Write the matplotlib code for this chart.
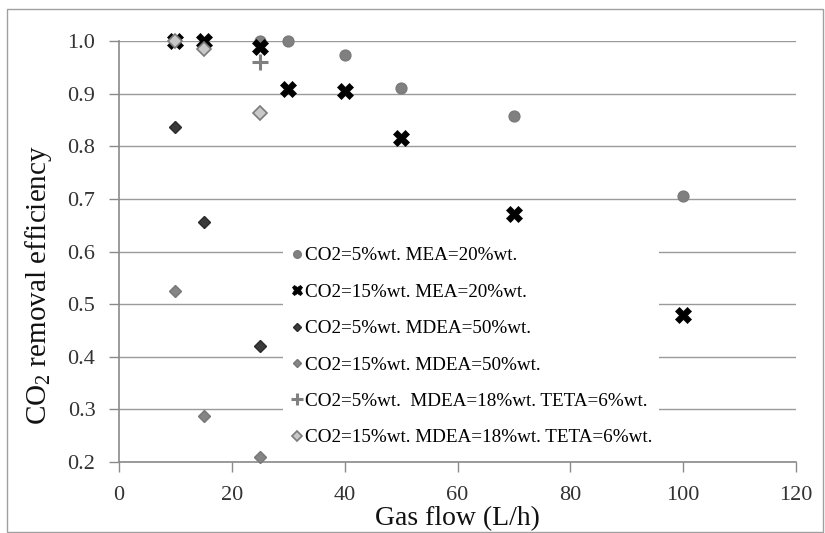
import matplotlib
matplotlib.use("Agg")
import matplotlib.pyplot as plt
from matplotlib.patches import Rectangle

plt.rcParams['font.family'] = ['Liberation Serif', 'DejaVu Serif']
plt.rcParams['mathtext.fontset'] = 'custom'
plt.rcParams['mathtext.rm'] = 'Liberation Serif'
plt.rcParams['mathtext.it'] = 'Liberation Serif:italic'

# Data
mea5_x = [25, 30, 40, 50, 70, 100]
mea5_y = [1.0, 1.0, 0.974, 0.911, 0.858, 0.706]

mea15_x = [10, 15, 25, 30, 40, 50, 70, 100]
mea15_y = [1.0, 1.0, 0.989, 0.909, 0.905, 0.816, 0.672, 0.479]

mdea5_x = [10, 15, 25]
mdea5_y = [0.837, 0.657, 0.42]

mdea15_x = [10, 15, 25]
mdea15_y = [0.525, 0.288, 0.21]

teta5_x = [25]
teta5_y = [0.96]

teta15_x = [10, 15, 25]
teta15_y = [1.0, 0.984, 0.864]

labels = [
    "CO2=5%wt. MEA=20%wt.",
    "CO2=15%wt. MEA=20%wt.",
    "CO2=5%wt. MDEA=50%wt.",
    "CO2=15%wt. MDEA=50%wt.",
    "CO2=5%wt.  MDEA=18%wt. TETA=6%wt.",
    "CO2=15%wt. MDEA=18%wt. TETA=6%wt.",
]

xticks = [0, 20, 40, 60, 80, 100, 120]
yticks = [0.2, 0.3, 0.4, 0.5, 0.6, 0.7, 0.8, 0.9, 1.0]

W, H = 825, 533
fig = plt.figure(figsize=(W / 100, H / 100), dpi=100)
ax = fig.add_axes([119 / W, 1 - 462 / H, (796 - 119) / W, (462 - 41) / H])

# figure border
fig.patches.append(Rectangle((7 / W, 1 - 532 / H), (823 - 7) / W, (532 - 9) / H,
                             transform=fig.transFigure, fill=False,
                             edgecolor='#a0a0a0', linewidth=1.0))

kw = dict(linestyle='none', clip_on=False, zorder=6)
ax.plot(mea5_x, mea5_y, marker='o', markersize=7.8, color='#808080',
        markeredgecolor='#7a7a7a', label=labels[0], **kw)
ax.plot(mea15_x, mea15_y, marker='X', markersize=11, color='black',
        markeredgecolor='black', markeredgewidth=0.5, label=labels[1], **kw)
ax.plot(mdea5_x, mdea5_y, marker='D', markersize=6.5, color='#3a3a3a',
        markeredgecolor='#2a2a2a', label=labels[2], **kw)
ax.plot(mdea15_x, mdea15_y, marker='D', markersize=6.5, color='#858585',
        markeredgecolor='#777777', label=labels[3], **kw)
ax.plot(teta5_x, teta5_y, marker='+', markersize=12, color='#808080',
        markeredgewidth=2.2, label=labels[4], **kw)
ax.plot(teta15_x, teta15_y, marker='D', markersize=7, color='#c8c8c8',
        markeredgecolor='#7a7a7a', markeredgewidth=1.2, label=labels[5], **kw)

ax.set_xlim(0, 120)
ax.set_ylim(0.2, 1.0)
ax.set_xticks(xticks)
ax.set_yticks(yticks)
ax.set_xticklabels([str(v) for v in xticks])
ax.set_yticklabels([f"{v:.1f}" for v in yticks])

ax.grid(axis='y', color='#9a9a9a', linewidth=1.0)
ax.set_axisbelow(True)
for s in ['top', 'right']:
    ax.spines[s].set_visible(False)
for s in ['left', 'bottom']:
    ax.spines[s].set_color('#8a8a8a')
    ax.spines[s].set_linewidth(1.2)
ax.tick_params(axis='both', direction='out', length=7, width=1, color='#8a8a8a',
               labelsize=16, labelcolor='#333333')
ax.tick_params(axis='x', pad=10)
ax.tick_params(axis='y', pad=10)

ax.set_xlabel("Gas flow (L/h)", fontsize=20, color='#111111')
ax.set_ylabel("CO$_2$ removal efficiency", fontsize=21, color='#111111')
ax.xaxis.set_label_coords(0.5, -0.104)
ax.yaxis.set_label_coords(-0.096, 0.42)

leg = ax.legend(loc='upper left', bbox_to_anchor=(0.2286, 0.547), frameon=True,
                fontsize=13.8, labelspacing=0.99, handletextpad=0.05,
                handlelength=0.8, borderpad=0.3, markerscale=0.7)
leg.get_frame().set_edgecolor('none')
leg.get_frame().set_facecolor('white')
leg.get_frame().set_alpha(1.0)
leg.set_zorder(5)

fig.savefig("out.png", dpi=100)
